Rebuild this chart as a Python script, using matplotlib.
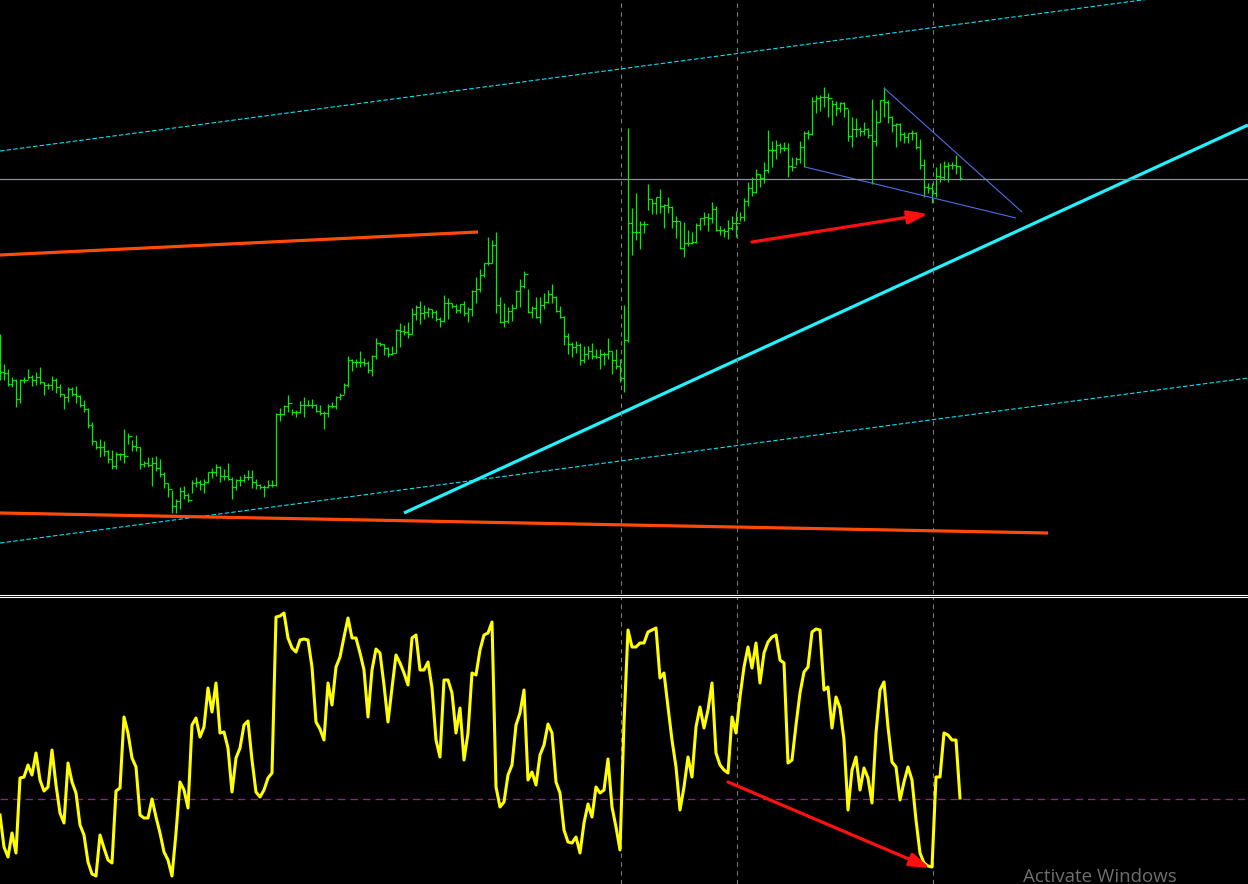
import numpy as np
import matplotlib
matplotlib.use("Agg")
import matplotlib.pyplot as plt
from matplotlib.lines import Line2D

# price bars, in points above a base level (one bar per 4 px on screen)
highs = [266, 236, 231, 223, 221, 221, 223, 231, 225, 228,
         233, 218, 217, 224, 222, 216, 206, 213, 213, 214,
         205, 200, 192, 178, 159, 161, 159, 150, 150, 148,
         147, 171, 167, 160, 165, 153, 139, 143, 143, 144,
         141, 128, 117, 110, 101, 113, 114, 107, 120, 123,
         120, 121, 128, 132, 136, 134, 131, 137, 123, 121,
         124, 126, 130, 130, 121, 116, 115, 120, 120, 187,
         192, 195, 205, 191, 190, 199, 203, 200, 201, 196,
         195, 189, 196, 198, 204, 207, 217, 244, 241, 241,
         249, 242, 239, 245, 262, 258, 256, 253, 254, 271,
         277, 275, 278, 292, 295, 299, 295, 293, 291, 290,
         283, 305, 302, 297, 296, 296, 299, 293, 310, 323,
         331, 337, 363, 360, 368, 303, 297, 293, 296, 310,
         321, 329, 311, 294, 303, 303, 307, 310, 316, 304,
         294, 284, 267, 258, 259, 257, 254, 254, 257, 251,
         251, 248, 262, 249, 251, 241, 295, 472, 392, 407,
         379, 379, 416, 401, 403, 411, 396, 403, 394, 384,
         379, 378, 370, 368, 377, 382, 388, 387, 398, 394,
         374, 372, 380, 384, 389, 388, 402, 418, 423, 431,
         426, 438, 470, 459, 460, 457, 458, 457, 443, 443,
         459, 469, 470, 503, 505, 505, 513, 507, 500, 499,
         498, 498, 491, 483, 482, 473, 478, 472, 501, 490,
         500, 513, 500, 484, 477, 477, 468, 467, 470, 468,
         461, 441, 417, 417, 433, 437, 439, 438, 438, 445,
         434]

lows = [220, 220, 214, 213, 193, 197, 217, 221, 214, 215,
        216, 205, 211, 210, 207, 203, 191, 198, 204, 197,
        193, 188, 172, 155, 151, 143, 144, 137, 131, 131,
        140, 137, 156, 149, 149, 131, 133, 133, 114, 129,
        123, 112, 103, 87, 87, 91, 101, 98, 107, 113,
        110, 107, 117, 122, 124, 118, 120, 120, 101, 110,
        114, 118, 120, 112, 111, 111, 103, 112, 113, 114,
        179, 185, 188, 185, 183, 187, 183, 194, 192, 188,
        185, 171, 183, 192, 191, 200, 206, 213, 229, 233,
        233, 234, 227, 224, 241, 254, 245, 243, 245, 247,
        253, 265, 262, 266, 280, 276, 281, 283, 282, 279,
        273, 278, 281, 292, 287, 287, 284, 278, 284, 297,
        308, 323, 335, 337, 287, 277, 273, 277, 279, 292,
        293, 312, 287, 282, 282, 277, 291, 297, 297, 288,
        282, 255, 246, 243, 247, 235, 237, 241, 241, 242,
        231, 235, 241, 226, 231, 218, 208, 258, 345, 360,
        351, 367, 390, 386, 386, 387, 372, 387, 372, 362,
        351, 343, 354, 356, 357, 370, 375, 369, 377, 369,
        365, 363, 361, 370, 363, 379, 379, 394, 404, 407,
        413, 417, 427, 433, 441, 447, 449, 423, 429, 435,
        437, 433, 461, 465, 487, 489, 493, 483, 475, 484,
        488, 483, 459, 453, 463, 464, 465, 462, 416, 454,
        478, 483, 477, 468, 453, 459, 457, 457, 460, 451,
        431, 403, 407, 397, 403, 418, 420, 418, 431, 426,
        420]

closes = [228, 227, 216, 220, 201, 220, 220, 223, 220, 223,
          218, 215, 215, 220, 213, 206, 203, 211, 206, 204,
          195, 191, 175, 159, 153, 153, 149, 141, 134, 146,
          146, 144, 164, 154, 153, 136, 137, 135, 137, 132,
          126, 117, 111, 94, 99, 109, 105, 100, 117, 118,
          116, 118, 128, 128, 133, 124, 124, 121, 113, 120,
          120, 123, 123, 118, 115, 113, 113, 115, 115, 186,
          186, 194, 197, 188, 188, 195, 195, 195, 195, 189,
          187, 187, 194, 194, 203, 205, 215, 240, 238, 238,
          238, 237, 230, 244, 257, 256, 252, 246, 247, 270,
          269, 268, 266, 286, 293, 287, 288, 291, 288, 281,
          279, 297, 297, 294, 290, 296, 287, 291, 309, 311,
          325, 337, 337, 355, 295, 278, 279, 289, 292, 309,
          314, 326, 288, 292, 283, 295, 298, 306, 303, 289,
          283, 264, 256, 253, 255, 240, 246, 249, 244, 243,
          246, 246, 249, 240, 234, 222, 260, 377, 368, 368,
          376, 376, 401, 397, 403, 394, 395, 393, 379, 379,
          352, 357, 357, 358, 375, 382, 383, 382, 391, 370,
          370, 369, 372, 377, 377, 383, 399, 412, 408, 426,
          422, 430, 450, 450, 455, 452, 452, 434, 433, 441,
          453, 467, 466, 499, 502, 503, 503, 502, 496, 492,
          497, 492, 464, 471, 471, 469, 471, 465, 459, 478,
          500, 498, 483, 475, 476, 466, 463, 467, 467, 453,
          435, 413, 412, 407, 424, 423, 434, 435, 435, 434,
          422]
first_open = 252

# oscillator (lower window), level line at 0
osc = [-16, -48, -58, -34, -54, 21, 22, 34, 24, 46,
       19, 8, 12, 49, 14, -14, -24, 36, 17, 6,
       -26, -36, -63, -75, -77, -36, -49, -61, -64, 8,
       11, 82, 66, 41, 32, -16, -19, -19, 0, -18,
       -34, -53, -61, -77, -34, 17, 9, -9, 74, 81,
       62, 72, 111, 87, 116, 66, 67, 51, 7, 41,
       51, 74, 78, 39, 7, 2, 9, 21, 26, 182,
       183, 186, 161, 151, 147, 159, 160, 159, 132, 77,
       70, 59, 116, 94, 132, 142, 162, 181, 161, 161,
       146, 129, 82, 129, 150, 146, 114, 77, 111, 144,
       136, 126, 114, 161, 164, 129, 129, 137, 111, 59,
       42, 119, 119, 106, 66, 91, 39, 66, 126, 124,
       149, 164, 166, 177, 12, -8, -3, 24, 34, 74,
       86, 109, 19, 27, 14, 44, 54, 75, 66, 17,
       6, -31, -43, -44, -38, -54, -24, -5, -18, 12,
       6, 9, 40, -8, -28, -51, 76, 169, 152, 152,
       156, 156, 167, 169, 171, 121, 126, 92, 59, 32,
       -11, 12, 42, 22, 72, 92, 71, 89, 116, 46,
       34, 29, 26, 82, 66, 102, 132, 152, 131, 156,
       116, 146, 157, 162, 164, 139, 136, 36, 39, 74,
       106, 127, 132, 167, 170, 169, 109, 112, 71, 102,
       91, 59, -11, 29, 42, 9, 31, 21, -4, 66,
       109, 117, 72, 37, 32, -1, 17, 32, 19, -21,
       -54, -64, -67, -68, 22, 22, 66, 64, 59, 59,
       1]

# drawn objects: (bar, price) end points
channel_upper = [(0, 449), (312, 614)]
channel_lower = [(0, 57), (312, 222)]
trend_cyan = [(101, 87), (312, 475)]
orange_top = [(0, 345), (119.5, 368)]
orange_bottom = [(0, 87), (262, 67)]
wedge_top = [(221, 512), (255.5, 388)]
wedge_bottom = [(201.25, 433), (254, 382)]
hline_price = 421
arrow_price = [(188, 358), (232, 386)]
arrow_osc = [(182, 17), (232.5, -69)]
vlines_at = [155.25, 184.25, 233.25]

W, H = 1248, 884
fig = plt.figure(figsize=(W / 100, H / 100), dpi=100, facecolor='black')
ax1 = fig.add_axes([0, 1 - 594 / H, 1, 594 / H])
ax2 = fig.add_axes([0, 0, 1, 287 / H])
for ax in (ax1, ax2):
    ax.set_facecolor('black')
    ax.axis('off')
    ax.set_xlim(0, 312)
ax1.set_ylim(6, 600)
ax2.set_ylim(-85, 202)

idx = np.arange(len(closes))
highs = np.array(highs)
lows = np.array(lows)
closes = np.array(closes)
opens = np.concatenate([[first_open], closes[:-1]])

bar_col = '#00ee00'
ax1.vlines(idx, lows, highs, color=bar_col, lw=0.9)
ax1.hlines(opens, idx - 0.45, idx, color=bar_col, lw=0.9)
ax1.hlines(closes, idx, idx + 0.45, color=bar_col, lw=0.9)

def seg(ax, pts, **kw):
    (x0, y0), (x1, y1) = pts
    ax.plot([x0, x1], [y0, y1], solid_capstyle='butt', **kw)

seg(ax1, channel_upper, color='#00e5f5', lw=0.8, ls=(0, (4, 2)))
seg(ax1, channel_lower, color='#00e5f5', lw=0.8, ls=(0, (4, 2)))
seg(ax1, orange_top, color='#ff4a0a', lw=2.3)
seg(ax1, orange_bottom, color='#ff4a0a', lw=2.3)
seg(ax1, trend_cyan, color='#22f2ff', lw=2.3)
seg(ax1, wedge_top, color='#4b6fe6', lw=0.8)
seg(ax1, wedge_bottom, color='#4b6fe6', lw=0.8)
ax1.axhline(hline_price, color='#8a8f9c', lw=0.9)

for ax, pts in ((ax1, arrow_price), (ax2, arrow_osc)):
    ax.annotate('', xy=pts[1], xytext=pts[0],
                arrowprops=dict(arrowstyle='-|>,head_length=1.2,head_width=0.4',
                                color='#ff1010', lw=2.3, shrinkA=0, shrinkB=0))

for x in vlines_at:
    ax1.axvline(x, color='#7a7a7a', lw=0.8, ls=(0, (4, 4)))
    ax2.axvline(x, color='#7a7a7a', lw=0.8, ls=(0, (4, 4)))

ax2.axhline(0, color='#9a1a9a', lw=0.9, ls=(0, (6, 4)))
ax2.plot(idx, osc, color='#ffff00', lw=2.2)

# double separator between windows
for yp in (594.5, 597.0):
    fig.add_artist(Line2D([0, 1], [1 - yp / H, 1 - yp / H], color='white', lw=0.8))

fig.text(1023 / W, 2 / H, 'Activate Windows', color='#6e6e6e',
         fontsize=13.5, family='Open Sans', va='baseline', ha='left')

fig.savefig('out.png', dpi=100, facecolor='black')
